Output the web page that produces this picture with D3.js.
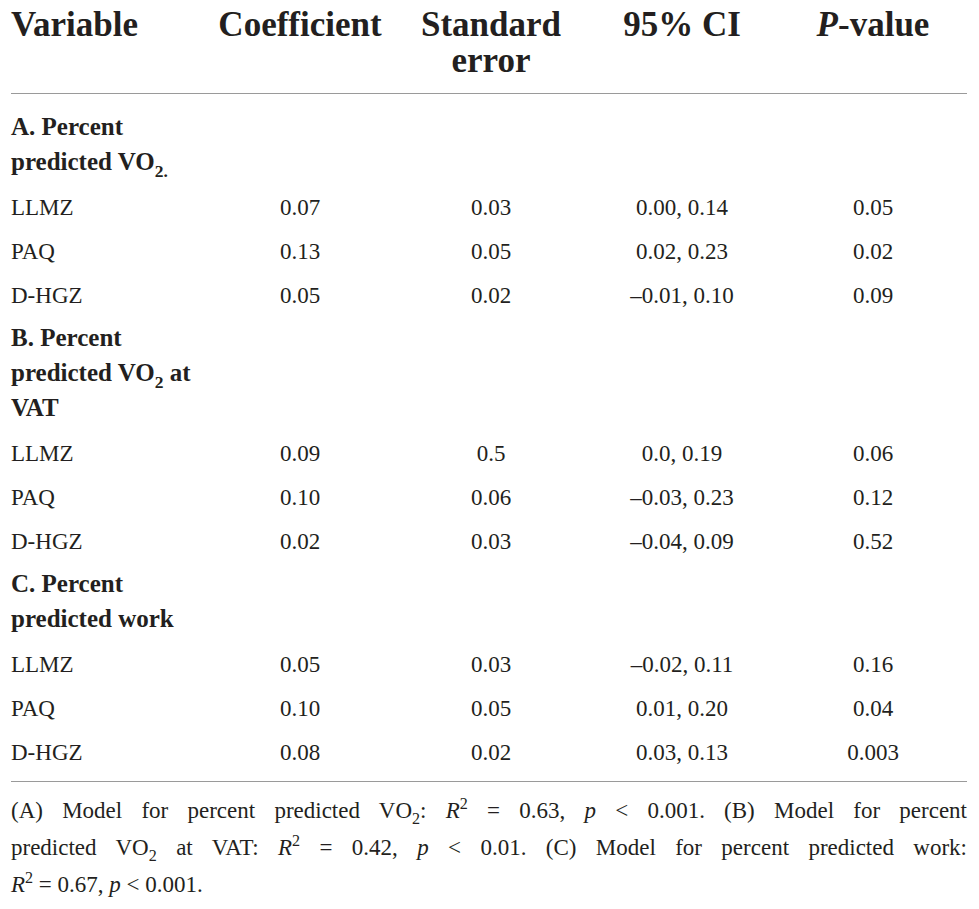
<!DOCTYPE html>
<html>
<head>
<meta charset="utf-8">
<script src="https://cdn.jsdelivr.net/npm/d3@7"></script>
<style>
  body { margin: 0; background: #fff; }
  svg text { font-family: "Liberation Serif", "DejaVu Serif", serif; fill: #231f20; }
</style>
</head>
<body>
<div id="chart"></div>
<script>
// table content
const columns = ["Variable", "Coefficient", "Standard error", "95% CI", "P-value"];
const headerLines = [["Variable"], ["Coefficient"], ["Standard", "error"], ["95% CI"], ["*P*-value"]];
const sectionTitles = [
    ["A. Percent", "predicted VO_{2.}"],
    ["B. Percent", "predicted VO_{2} at", "VAT"],
    ["C. Percent", "predicted work"]
];
const variables = ["LLMZ", "PAQ", "D-HGZ"];
const coefficient = [["0.07", "0.13", "0.05"], ["0.09", "0.10", "0.02"], ["0.05", "0.10", "0.08"]];
const stdError = [["0.03", "0.05", "0.02"], ["0.5", "0.06", "0.03"], ["0.03", "0.05", "0.02"]];
const ci95 = [["0.00, 0.14", "0.02, 0.23", "–0.01, 0.10"],
              ["0.0, 0.19", "–0.03, 0.23", "–0.04, 0.09"],
              ["–0.02, 0.11", "0.01, 0.20", "0.03, 0.13"]];
const pValue = [["0.05", "0.02", "0.09"], ["0.06", "0.12", "0.52"], ["0.16", "0.04", "0.003"]];
const footnote = [
    "(A) Model for percent predicted VO_{2}: *R*^{2} = 0.63, *p* < 0.001. (B) Model for percent",
    "predicted VO_{2} at VAT: *R*^{2} = 0.42, *p* < 0.01. (C) Model for percent predicted work:",
    "*R*^{2} = 0.67, *p* < 0.001."
];

const W = 979, H = 909;
const left = 11, right = 967;

let svg = d3.select("#chart").append("svg")
    .attr("width", W)
    .attr("height", H);

// split "a _{sub} ^{sup} *ital*" into pieces
function parseRich(str) {
    let parts = [];
    let re = /_\{([^}]*)\}|\^\{([^}]*)\}|\*([^*]*)\*|([^_^*]+)/g;
    let m;
    while ((m = re.exec(str)) !== null) {
        if (m[1] !== undefined) parts.push({ t: m[1], pos: "sub" });
        else if (m[2] !== undefined) parts.push({ t: m[2], pos: "sup" });
        else if (m[3] !== undefined) parts.push({ t: m[3], italic: true });
        else parts.push({ t: m[4] });
    }
    return parts;
}

function richText(sel, str, size) {
    let shift = 0;
    parseRich(str).forEach(p => {
        let target = p.pos === "sub" ? size * 0.28 : p.pos === "sup" ? -size * 0.38 : 0;
        let ts = sel.append("tspan")
            .attr("dy", target - shift)
            .text(p.t);
        shift = target;
        if (p.pos) ts.style("font-size", (size * 0.7) + "px");
        if (p.italic) ts.style("font-style", "italic");
    });
}

// column positions
let xCol = d3.scalePoint()
    .domain(columns.slice(1))
    .range([300, 873]);

// header
headerLines.forEach((lines, i) => {
    lines.forEach((line, j) => {
        let t = svg.append("text")
            .attr("x", i === 0 ? left : xCol(columns[i]))
            .attr("y", 36 + j * 36)
            .attr("text-anchor", i === 0 ? "start" : "middle")
            .style("font-size", "35px")
            .style("font-weight", "bold");
        richText(t, line, 35);
    });
});

svg.append("line")
    .attr("x1", left).attr("x2", right)
    .attr("y1", 93.5).attr("y2", 93.5)
    .attr("stroke", "#9a9a9a")
    .attr("stroke-width", 1.2);

// body rows, y is the baseline
let y = 93;
let gapFirst = 42, titleStep = 35, dataStep = 44;
sectionTitles.forEach((title, s) => {
    title.forEach((line, k) => {
        y += k === 0 ? gapFirst : titleStep;
        let t = svg.append("text")
            .attr("x", left)
            .attr("y", y)
            .style("font-size", "25px")
            .style("font-weight", "bold");
        richText(t, line, 25);
    });
    y += 1;
    gapFirst = 43;
    variables.forEach((v, r) => {
        y += dataStep;
        let cells = [v, coefficient[s][r], stdError[s][r], ci95[s][r], pValue[s][r]];
        svg.append("g").selectAll("text")
            .data(cells)
            .join("text")
            .attr("x", (d, i) => i === 0 ? left : xCol(columns[i]))
            .attr("y", y)
            .attr("text-anchor", (d, i) => i === 0 ? "start" : "middle")
            .style("font-size", "23px")
            .text(d => d);
    });
});

svg.append("line")
    .attr("x1", left).attr("x2", right)
    .attr("y1", 781.5).attr("y2", 781.5)
    .attr("stroke", "#9a9a9a")
    .attr("stroke-width", 1.2);

// footnote, first two lines justified by widening the word gaps
footnote.forEach((line, i) => {
    let t = svg.append("text")
        .attr("x", left)
        .attr("y", 818 + i * 37)
        .style("font-size", "23px");
    richText(t, line, 23);
    if (i < footnote.length - 1) {
        let natural = t.node().getComputedTextLength();
        let gaps = line.split(" ").length - 1;
        t.style("word-spacing", ((right - left - natural) / gaps) + "px");
    }
});
</script>
</body>
</html>
